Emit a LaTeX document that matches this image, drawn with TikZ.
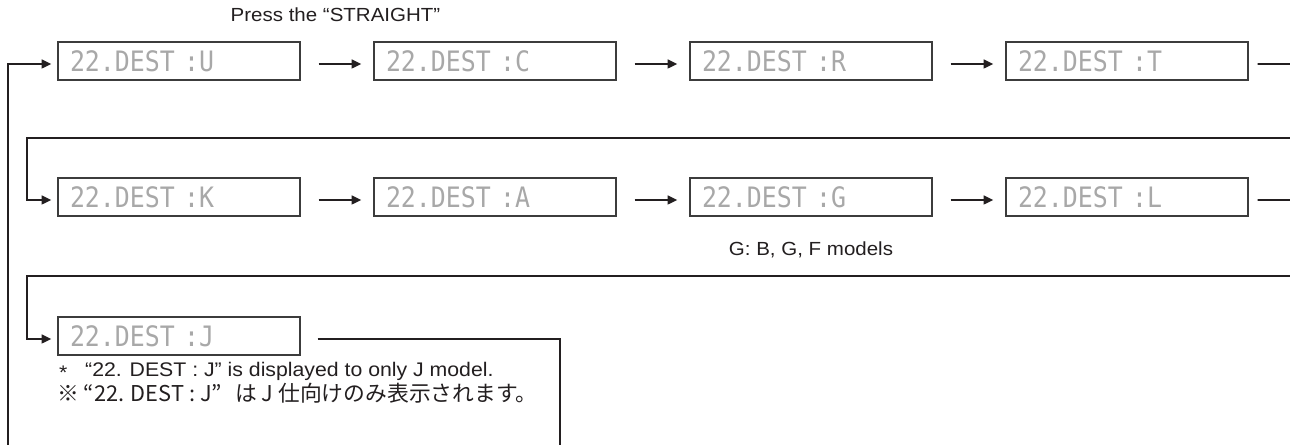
\documentclass[tikz,border=0pt]{standalone}
\usepackage{fontspec}
\setmainfont{Liberation Sans}[FakeStretch=1.08]
\newfontfamily\lcdfont{DejaVu Sans Mono}[FakeStretch=0.885]
\newfontfamily\jpfont{Noto Sans CJK JP}
\usepackage{xcolor}
\usetikzlibrary{arrows.meta}
\definecolor{Ink}{HTML}{231F20}
\definecolor{Frame}{HTML}{3C3C3C}
\definecolor{DotGray}{HTML}{A8A8A8}

\begin{document}
\begin{tikzpicture}[every node/.style={font=\fontsize{10.8}{13}\selectfont,text=Ink},lcdbox/.style={draw=Frame,line width=0.75pt,minimum height=0.76cm,text width=4.36cm,inner xsep=0.24cm,inner ysep=0pt,align=left,font=\lcdfont\fontsize{16}{16}\selectfont,text=DotGray},flow/.style={-{Triangle[length=5.5pt,width=5pt]},draw=Ink,line width=1pt},wire/.style={draw=Ink,line width=1pt}]
\path[use as bounding box,fill=white] (0,0) rectangle (25.8,8.9);
\node[anchor=west] (press) at (4.49,8.6) {Press the “STRAIGHT”};
% first row
\node[lcdbox] (dU) at (3.58,7.68) {22.DEST :U};
\node[lcdbox] (dC) at (9.90,7.68) {22.DEST :C};
\node[lcdbox] (dR) at (16.22,7.68) {22.DEST :R};
\node[lcdbox] (dT) at (22.54,7.68) {22.DEST :T};
% second row
\node[lcdbox] (dK) at (3.58,4.96) {22.DEST :K};
\node[lcdbox] (dA) at (9.90,4.96) {22.DEST :A};
\node[lcdbox] (dG) at (16.22,4.96) {22.DEST :G};
\node[lcdbox] (dL) at (22.54,4.96) {22.DEST :L};
\node (gnote) at (16.22,3.9) {G: B, G, F models};
% third row
\node[lcdbox] (dJ) at (3.58,2.18) {22.DEST :J};
\node[anchor=west,font=\fontsize{11.2}{13}\selectfont] (note1) at (1.06,1.48) {\raisebox{-0.15em}{*}\hspace{0.9em}“22. DEST : J” is displayed to only J model.};
\node[anchor=west,font=\jpfont\fontsize{12.4}{14}\selectfont] (note2) at (1.03,1.04) {※\hspace{0.2em}“22. DEST : J”\hspace{0.6em}は J 仕向けのみ表示されます。};
\coordinate (loopin) at (0.16,0);
\coordinate (loopout) at (11.2,0);
\coordinate (endT) at (25.8,7.62);
\coordinate (endL) at (25.8,4.90);
\coordinate (wrapK) at (25.8,6.14);
\coordinate (bendK) at (0.54,6.14);
\coordinate (wrapJ) at (25.8,3.38);
\coordinate (bendJ) at (0.54,3.38);
\draw[flow,shorten >=0.12cm] (loopin) |- ([yshift=-0.06cm]dU.west);
\foreach \from/\to in {dU/dC,dC/dR,dR/dT,dK/dA,dA/dG,dG/dL}
  \draw[flow,shorten <=0.36cm,shorten >=0.24cm] ([yshift=-0.06cm]\from.east) -- ([yshift=-0.06cm]\to.west);
\draw[wire,shorten <=0.18cm] ([yshift=-0.06cm]dT.east) -- (endT);
\draw[wire,shorten <=0.18cm] ([yshift=-0.06cm]dL.east) -- (endL);
\draw[flow,shorten >=0.12cm] (wrapK) -- (bendK) |- ([yshift=-0.06cm]dK.west);
\draw[flow,shorten >=0.12cm] (wrapJ) -- (bendJ) |- ([yshift=-0.06cm]dJ.west);
\draw[wire,shorten <=0.34cm] ([yshift=-0.06cm]dJ.east) -| (loopout);
\end{tikzpicture}
\end{document}
